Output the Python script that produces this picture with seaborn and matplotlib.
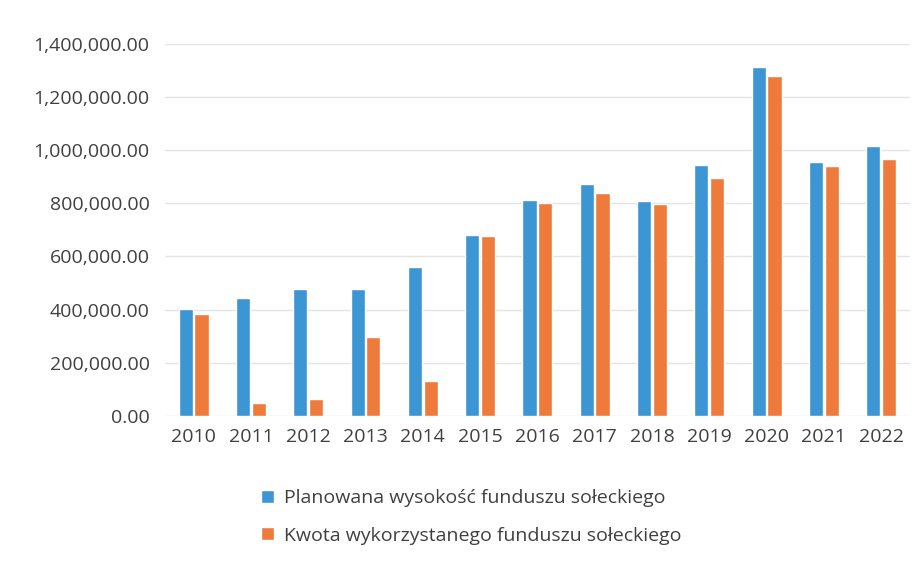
import seaborn as sns
import pandas as pd
import matplotlib.pyplot as plt
from matplotlib.ticker import FuncFormatter

years = ["2010", "2011", "2012", "2013", "2014", "2015", "2016",
         "2017", "2018", "2019", "2020", "2021", "2022"]
planowana = [401000, 445000, 478000, 478000, 559000, 679000, 811000,
             871000, 808000, 943000, 1310000, 955000, 1014000]
wykorzystana = [384000, 48000, 63000, 298000, 132000, 675000, 802000,
                838000, 796000, 894000, 1279000, 941000, 965000]
series = ["Planowana wysokość funduszu sołeckiego",
          "Kwota wykorzystanego funduszu sołeckiego"]

df = pd.DataFrame({
    "Rok": years * 2,
    "Kwota": planowana + wykorzystana,
    "Seria": [series[0]] * len(years) + [series[1]] * len(years),
})

sns.set_style("white")
plt.rcParams["font.family"] = ["Open Sans", "DejaVu Sans"]

fig = plt.figure(figsize=(9.19, 5.73), dpi=100)
ax = fig.add_axes([0.1795, 0.274, 0.8105, 0.65])

sns.barplot(data=df, x="Rok", y="Kwota", hue="Seria",
            palette=["#3C96D4", "#EE7A3C"], width=0.55, gap=0.1,
            saturation=1, ax=ax, legend=True)

ax.set_ylim(0, 1400000)
ax.set_xlim(-0.5, len(years) - 0.5)
ax.set_yticks(range(0, 1400001, 200000))
ax.yaxis.set_major_formatter(FuncFormatter(lambda v, p: f"{v:,.2f}"))
ax.grid(axis="y", color="#E4E4E4", linewidth=1)
ax.set_axisbelow(True)
for s in ax.spines.values():
    s.set_visible(False)
ax.tick_params(axis="both", length=0, labelsize=14, colors="#404040")
ax.tick_params(axis="y", pad=11)
ax.tick_params(axis="x", pad=9)
ax.set_xlabel("")
ax.set_ylabel("")

handles, labels = ax.get_legend_handles_labels()
ax.get_legend().remove()
fig.legend(handles, labels, loc="upper left", bbox_to_anchor=(0.284, 0.146),
           frameon=False, fontsize=14, handlelength=0.65, handleheight=0.65,
           handletextpad=0.55, labelspacing=1.0, labelcolor="#404040",
           borderpad=0, borderaxespad=0)

fig.savefig("out.png", dpi=100)
